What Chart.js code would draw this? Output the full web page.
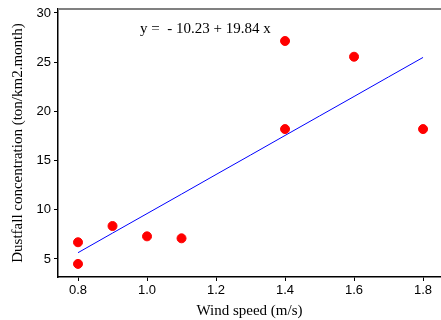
<!DOCTYPE html>
<html><head><meta charset="utf-8">
<script src="https://cdn.jsdelivr.net/npm/chart.js@4"></script>
<style>html,body{margin:0;padding:0;background:#fff}#wrap{width:441px;height:320px}</style>
</head><body><div id="wrap"><canvas id="c" width="441" height="320"></canvas></div>
<script>
const windSpeed = [0.8, 0.8, 0.9, 1.0, 1.1, 1.4, 1.4, 1.6, 1.8];
const dustfall  = [6.7, 4.5, 8.35, 7.3, 7.1, 27.15, 18.2, 25.55, 18.2];
const fitX = [0.8, 0.9, 1.0, 1.1, 1.2, 1.3, 1.4, 1.5, 1.6, 1.7, 1.8];
const fitY = [5.64, 7.63, 9.61, 11.59, 13.58, 15.56, 17.55, 19.53, 21.51, 23.50, 25.48];
const xTicks = [0.8, 1.0, 1.2, 1.4, 1.6, 1.8];
const yTicks = [5, 10, 15, 20, 25, 30];
const equation = 'y =  - 10.23 + 19.84 x';
const xTitle = 'Wind speed (m/s)';
const yTitle = 'Dustfall concentration (ton/km2.month)';

const serif = '"Liberation Serif", "Times New Roman", serif';
const sans = '"Liberation Sans", Arial, sans-serif';

const extras = {
  id: 'extras',
  afterDraw(chart) {
    const {ctx, chartArea: a, scales: {x, y}} = chart;
    ctx.save();
    ctx.strokeStyle = '#808080';
    ctx.lineWidth = 2;
    ctx.beginPath(); ctx.moveTo(a.left, a.top); ctx.lineTo(a.right, a.top); ctx.stroke();
    ctx.fillStyle = '#000';
    ctx.font = '15px ' + serif;
    ctx.textBaseline = 'middle';
    ctx.textAlign = 'left';
    ctx.fillText(equation, x.getPixelForValue(0.98), y.getPixelForValue(28.4));
    ctx.restore();
  }
};

new Chart(document.getElementById('c'), {
  type: 'scatter',
  data: {
    datasets: [
      { label: 'obs', data: windSpeed.map((v, i) => ({x: v, y: dustfall[i]})),
        backgroundColor: '#ff0000', borderColor: '#ff0000', pointRadius: 4.5, pointHoverRadius: 4.5, order: 0 },
      { label: 'fit', type: 'line', data: fitX.map((v, i) => ({x: v, y: fitY[i]})),
        borderColor: '#0000ff', borderWidth: 1, pointRadius: 0, fill: false, order: 1 }
    ]
  },
  options: {
    responsive: false, animation: false,
    layout: { padding: { top: 9, right: 0, left: 0, bottom: 0 }, autoPadding: false },
    plugins: { legend: { display: false }, tooltip: { enabled: false } },
    scales: {
      x: {
        type: 'linear', min: 0.742, max: 1.852,
        afterBuildTicks: s => { s.ticks = xTicks.map(v => ({value: v})); },
        afterFit: s => { s.height = 43; s.paddingLeft = 0; s.paddingRight = 0; },
        grid: { drawOnChartArea: false, drawTicks: true, tickLength: 4, color: '#000' },
        border: { color: '#000', width: 1.5 },
        ticks: { color: '#000', font: { family: sans, size: 13 }, padding: 2, maxRotation: 0,
                 callback: v => v.toFixed(1) },
        title: { display: true, text: xTitle, color: '#000', font: { family: serif, size: 15 }, padding: { top: 2, bottom: 0 } }
      },
      y: {
        type: 'linear', min: 3.17, max: 30.4,
        afterBuildTicks: s => { s.ticks = yTicks.map(v => ({value: v})); },
        afterFit: s => { s.width = 58; s.paddingTop = 0; s.paddingBottom = 0; },
        grid: { drawOnChartArea: false, drawTicks: true, tickLength: 4, color: '#000' },
        border: { color: '#000', width: 1.5 },
        ticks: { color: '#000', font: { family: sans, size: 13 }, padding: 3 },
        title: { display: true, text: yTitle, color: '#000', font: { family: serif, size: 15 }, padding: { top: 9, bottom: 0 } }
      }
    }
  },
  plugins: [extras]
});
</script></body></html>
